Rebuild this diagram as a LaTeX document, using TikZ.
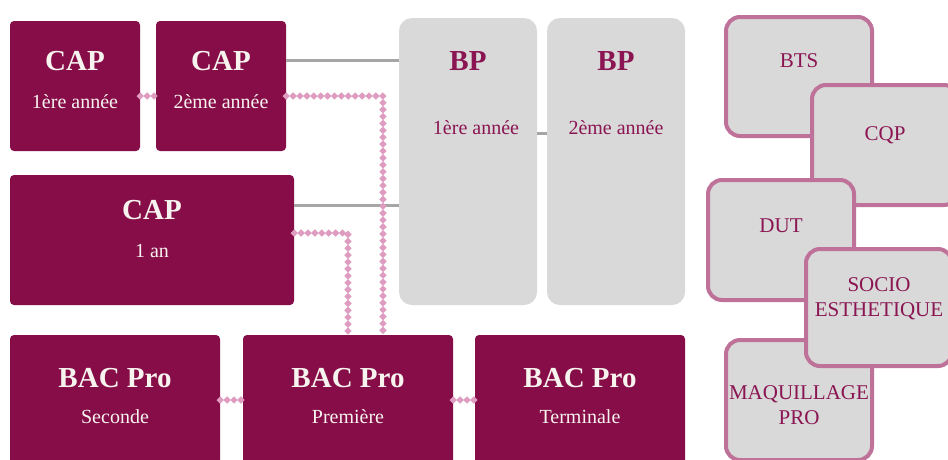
\documentclass[tikz,border=0pt]{standalone}
\usepackage{fontspec}
\setmainfont{Liberation Serif}
\usetikzlibrary{decorations.markings,calc}
\definecolor{maroon}{HTML}{860D48}
\definecolor{boxgray}{HTML}{D9D9D9}
\definecolor{linegray}{HTML}{A6A6A6}
\definecolor{pinkdot}{HTML}{DE9CC0}
\definecolor{rimpink}{HTML}{BF7299}
\definecolor{titlewhite}{HTML}{F7F3EE}
\definecolor{darktext}{HTML}{8A1552}
\begin{document}
\begin{tikzpicture}[x=1pt,y=-1pt,
  mbox/.style={fill=maroon, rounded corners=4pt, inner sep=0pt},
  gbox/.style={fill=boxgray, rounded corners=13pt, inner sep=0pt, minimum width=138pt, minimum height=287pt},
  rbox/.style={fill=boxgray, draw=rimpink, line width=4pt, rounded corners=14pt, inner sep=0pt, minimum width=146pt, minimum height=120pt},
  ttl/.style={text=titlewhite, font=\bfseries\fontsize{29}{29}\selectfont, inner sep=0pt},
  sub/.style={text=titlewhite, font=\fontsize{20}{20}\selectfont, inner sep=0pt},
  bpttl/.style={text=darktext, font=\bfseries\fontsize{29}{29}\selectfont, inner sep=0pt},
  bpsub/.style={text=darktext, font=\fontsize{20}{20}\selectfont, inner sep=0pt},
  rtxt/.style={text=darktext, font=\fontsize{21}{25}\selectfont, inner sep=0pt, align=center},
  gline/.style={draw=linegray, line width=3pt},
  pinkdots/.style={decorate, decoration={markings,
     mark=between positions 0 and 1 step 6.9pt with {\fill[pinkdot] (-3.7pt,0) -- (0,3.7pt) -- (3.7pt,0) -- (0,-3.7pt) -- cycle;}}}
]
\useasboundingbox (0,0) rectangle (948,459);
\clip (0,0) rectangle (948,459);
\fill[white] (0,0) rectangle (948,459);

% maroon boxes
\node[mbox, minimum width=130pt, minimum height=130pt] (cap1) at (75,86) {};
\node[mbox, minimum width=130pt, minimum height=130pt] (cap2) at (221,86) {};
\node[mbox, minimum width=284pt, minimum height=130pt] (cap3) at (152,240) {};
\node[mbox, minimum width=210pt, minimum height=135pt] (bac1) at (115,402.5) {};
\node[mbox, minimum width=210pt, minimum height=135pt] (bac2) at (348,402.5) {};
\node[mbox, minimum width=210pt, minimum height=135pt] (bac3) at (580,402.5) {};

% BP boxes
\node[gbox] (bp1) at (468,161.5) {};
\node[gbox] (bp2) at (616,161.5) {};

% gray connectors
\coordinate (g1) at ([yshift=26pt]cap2.east);
\draw[gline] (g1) -- (g1 -| bp1.west);
\coordinate (g2) at ([yshift=35pt]cap3.east);
\draw[gline] (g2) -- (g2 -| bp1.west);
\coordinate (g3) at ([yshift=28.5pt]bp1.east);
\draw[gline] (g3) -- (g3 -| bp2.west);

% pink dotted connectors
\coordinate (p1) at ([yshift=-10pt]cap1.east);
\path[pinkdots] (p1) -- (p1 -| cap2.west);
\coordinate (p2) at ([yshift=-10pt]cap2.east);
\coordinate (k1) at (383,96);
\path[pinkdots] (p2) -- (k1) -- (k1 |- bac2.north);
\coordinate (p3) at ([yshift=7pt]cap3.east);
\coordinate (k2) at (348,233);
\path[pinkdots] (p3) -- (k2) -- (k2 |- bac2.north);
\coordinate (p4) at ([yshift=2.5pt]bac1.east);
\path[pinkdots] (p4) -- (p4 -| bac2.west);
\coordinate (p5) at ([yshift=2.5pt]bac2.east);
\path[pinkdots] (p5) -- (p5 -| bac3.west);

% texts on maroon boxes
\node[ttl] (cap1t) at (75,61) {CAP};
\node[sub] (cap1s) at (75,102) {1ère année};
\node[ttl] (cap2t) at (221,61) {CAP};
\node[sub] (cap2s) at (221,102) {2ème année};
\node[ttl] (cap3t) at (152,210) {CAP};
\node[sub] (cap3s) at (152,251) {1 an};
\node[ttl] (bac1t) at (115,378) {BAC Pro};
\node[sub] (bac1s) at (115,417) {Seconde};
\node[ttl] (bac2t) at (348,378) {BAC Pro};
\node[sub] (bac2s) at (348,417) {Première};
\node[ttl] (bac3t) at (580,378) {BAC Pro};
\node[sub] (bac3s) at (580,417) {Terminale};

% texts on BP boxes
\node[bpttl] (bp1t) at (468,61) {BP};
\node[bpsub] (bp1s) at (476,128) {1ère année};
\node[bpttl] (bp2t) at (616,61) {BP};
\node[bpsub] (bp2s) at (616,128) {2ème année};

% right-hand boxes
\node[rbox, minimum height=119pt] (bts) at (799,76.5) {};
\node[rtxt] (btst) at (799,61) {BTS};
\node[rbox] (cqp) at (885,145) {};
\node[rtxt] (cqpt) at (885,135) {CQP};
\node[rbox] (dut) at (781,240) {};
\node[rtxt] (dutt) at (781,226) {DUT};
\node[rbox] (maq) at (799,400) {};
\node[rtxt] (maqt) at (799,405) {MAQUILLAGE\\PRO};
\node[rbox, minimum height=117pt] (socio) at (879,307.5) {};
\node[rtxt] (sociot) at (879,299) {SOCIO\\ESTHETIQUE};
\end{tikzpicture}
\end{document}
